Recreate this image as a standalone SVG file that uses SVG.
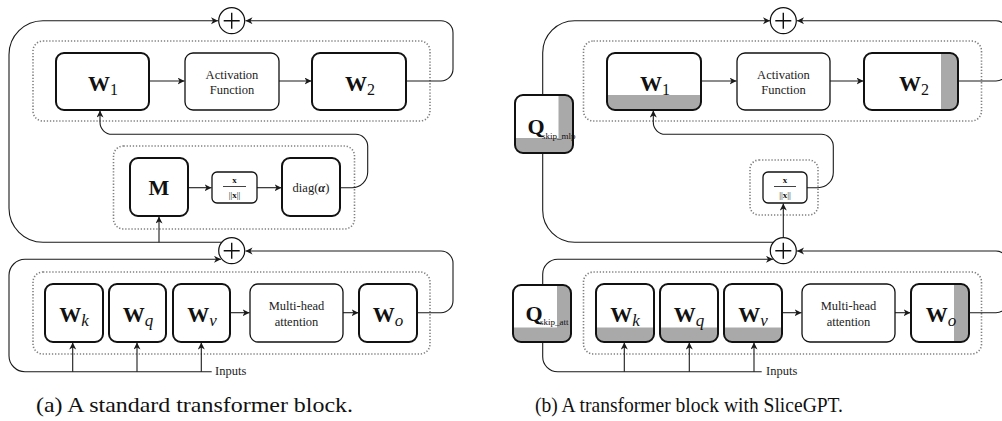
<svg xmlns="http://www.w3.org/2000/svg" width="1002" height="421" viewBox="0 0 1002 421">
<defs>
<marker id="arr" markerUnits="userSpaceOnUse" markerWidth="8" markerHeight="8" refX="7" refY="3.5" orient="auto">
<path d="M0,0 L7,3.5 L0,7 L2,3.5 Z" fill="#1a1a1a"/>
</marker>
</defs>
<style>
.bg{fill:#fff}
.thick{fill:none;stroke:#111;stroke-width:2}
.thin{fill:#fff;stroke:#111;stroke-width:1.3}
.dot{fill:none;stroke:#808080;stroke-width:1.6;stroke-dasharray:1.3 1.8}
.gray{fill:#a9a9a9}
.con{fill:none;stroke:#1a1a1a;stroke-width:1.1}
.arr{marker-end:url(#arr)}
.plus{fill:#fff;stroke:#111;stroke-width:1.2}
.pl{stroke:#111;stroke-width:1.4}
.W{font-family:"Liberation Serif","Times New Roman",serif;font-weight:bold;font-size:22px;fill:#111}
.sub{font-family:"Liberation Serif","Times New Roman",serif;font-weight:normal;font-size:16px}
.subi{font-family:"Liberation Serif","Times New Roman",serif;font-weight:normal;font-style:italic;font-size:17px}
.lbl{font-family:"Liberation Serif","Times New Roman",serif;font-size:12.5px;fill:#222}
.sm{font-family:"Liberation Serif","Times New Roman",serif;font-size:9px;fill:#111}
.cap{font-family:"Liberation Serif","Times New Roman",serif;font-size:21px;fill:#111}
</style>

<!-- dotted groups -->
<g id="groups">
<rect class="dot" x="33" y="41" width="397" height="80" rx="10"/>
<rect class="dot" x="113.5" y="146" width="241" height="83" rx="10"/>
<rect class="dot" x="33" y="272" width="397" height="82" rx="10"/>
<rect class="dot" x="583.5" y="41" width="398" height="80" rx="10"/>
<rect class="dot" x="750" y="160" width="68" height="55" rx="9"/>
<rect class="dot" x="583.5" y="272" width="398" height="82" rx="10"/>
</g>

<g id="connectors">
<!-- panel a -->
<path class="con arr" d="M221.8 242.3 H43 A34 34 0 0 1 9 208.3 V54.7 A34 34 0 0 1 43 20.7 H218"/>
<path class="con arr" d="M159 242.3 V216.5"/>
<path class="con arr" d="M406 81 H441 A12 12 0 0 0 453 69 V32.7 A12 12 0 0 0 441 20.7 H245.5"/>
<path class="con arr" d="M340 187.7 H352 A15.7 15.7 0 0 0 367.7 172 V146.3 A12 12 0 0 0 355.7 134.3 H112 A12 12 0 0 1 100 122.3 V110.5"/>
<path class="con arr" d="M211.7 371.7 H25 A16 16 0 0 1 9 355.7 V275.3 A16 16 0 0 1 25 259.3 H221"/>
<path class="con arr" d="M417 312.7 H441 A12 12 0 0 0 453 300.7 V263 A12 12 0 0 0 441 251 H245.5"/>
<path class="con arr" d="M72.7 371.7 V342.5"/>
<path class="con arr" d="M137 371.7 V342.5"/>
<path class="con arr" d="M201.3 371.7 V342.5"/>
<path class="con arr" d="M149 81 H184.5"/>
<path class="con arr" d="M279 81 H311.5"/>
<path class="con arr" d="M188 187.7 H211.5"/>
<path class="con arr" d="M257 187.7 H281.5"/>
<path class="con arr" d="M230 312.7 H249.5"/>
<path class="con arr" d="M343 312.7 H358.5"/>
<!-- panel b -->
<path class="con arr" d="M542.7 95 V52.7 A32 32 0 0 1 574.7 20.7 H770"/>
<path class="con" d="M542.7 153 V210.3 A32 32 0 0 0 574.7 242.3 H773.4"/>
<path class="con arr" d="M958 81 H996 A12 12 0 0 0 1008 69 V32.7 A12 12 0 0 0 996 20.7 H797"/>
<path class="con arr" d="M807 187.7 H818 A15.3 15.3 0 0 0 833.3 172.4 V146.3 A12 12 0 0 0 821.3 134.3 H665.3 A12 12 0 0 1 653.3 122.3 V110.5"/>
<path class="con arr" d="M783.3 237.7 V203.5"/>
<path class="con arr" d="M542.7 285 V274.3 A15 15 0 0 1 557.7 259.3 H773"/>
<path class="con" d="M542.7 342 V356.7 A15 15 0 0 0 557.7 371.7 H761.7"/>
<path class="con arr" d="M969 312.7 H996 A12 12 0 0 0 1008 300.7 V263 A12 12 0 0 0 996 251 H797"/>
<path class="con arr" d="M624.3 371.7 V342.5"/>
<path class="con arr" d="M689.3 371.7 V342.5"/>
<path class="con arr" d="M754 371.7 V342.5"/>
<path class="con arr" d="M701 81 H736.5"/>
<path class="con arr" d="M830 81 H863.5"/>
<path class="con arr" d="M782 312.7 H801.5"/>
<path class="con arr" d="M895 312.7 H910.5"/>
</g>

<!-- panel a nodes -->
<g id="a_plus_top"><circle class="plus" cx="231.7" cy="20.7" r="13"/><path class="pl" d="M223.7 20.7 H239.7 M231.7 12.7 V28.7"/></g>
<g id="a_plus_bot"><circle class="plus" cx="231.7" cy="250.7" r="13"/><path class="pl" d="M223.7 250.7 H239.7 M231.7 242.7 V258.7"/></g>
<g id="a_W1"><rect class="bg" x="56" y="53" width="93" height="57" rx="8"/><rect class="thick" x="56" y="53" width="93" height="57" rx="8"/><text class="W" x="103" y="91" text-anchor="middle">W<tspan class="sub" dy="4">1</tspan></text></g>
<g id="a_act"><rect class="thin" x="185" y="53" width="94" height="57" rx="8"/><text class="lbl" x="232" y="79" text-anchor="middle">Activation</text><text class="lbl" x="232" y="94" text-anchor="middle">Function</text></g>
<g id="a_W2"><rect class="bg" x="312" y="53" width="94" height="57" rx="8"/><rect class="thick" x="312" y="53" width="94" height="57" rx="8"/><text class="W" x="360" y="91" text-anchor="middle">W<tspan class="sub" dy="4">2</tspan></text></g>
<g id="a_M"><rect class="bg" x="130" y="158" width="58" height="58" rx="8"/><rect class="thick" x="130" y="158" width="58" height="58" rx="8"/><text class="W" x="159" y="195" text-anchor="middle">M</text></g>
<g id="a_norm"><rect class="thin" x="212" y="172" width="45" height="31" rx="5"/><text class="sm" x="234.5" y="183" text-anchor="middle" font-weight="bold">x</text><path d="M223 186.5 H246" stroke="#111" stroke-width="0.8"/><text class="sm" x="234.5" y="198" text-anchor="middle">||<tspan font-weight="bold">x</tspan>||</text></g>
<g id="a_diag"><rect class="bg" x="282" y="158" width="58" height="58" rx="8"/><rect class="thick" x="282" y="158" width="58" height="58" rx="8"/><text class="lbl" x="311" y="192" text-anchor="middle" font-size="14.5" fill="#111">diag(<tspan font-weight="bold" font-style="italic">α</tspan>)</text></g>
<g id="a_Wk"><rect class="bg" x="45" y="284" width="58" height="58" rx="8"/><rect class="thick" x="45" y="284" width="58" height="58" rx="8"/><text class="W" x="74" y="322" text-anchor="middle">W<tspan class="subi" dy="4">k</tspan></text></g>
<g id="a_Wq"><rect class="bg" x="109" y="284" width="57" height="58" rx="8"/><rect class="thick" x="109" y="284" width="57" height="58" rx="8"/><text class="W" x="138" y="322" text-anchor="middle">W<tspan class="subi" dy="4">q</tspan></text></g>
<g id="a_Wv"><rect class="bg" x="173" y="284" width="57" height="58" rx="8"/><rect class="thick" x="173" y="284" width="57" height="58" rx="8"/><text class="W" x="202" y="322" text-anchor="middle">W<tspan class="subi" dy="4">v</tspan></text></g>
<g id="a_mha"><rect class="thin" x="250" y="284" width="93" height="58" rx="8"/><text class="lbl" x="296.5" y="310" text-anchor="middle" font-size="12">Multi-head</text><text class="lbl" x="296.5" y="326" text-anchor="middle" font-size="12">attention</text></g>
<g id="a_Wo"><rect class="bg" x="359" y="284" width="58" height="58" rx="8"/><rect class="thick" x="359" y="284" width="58" height="58" rx="8"/><text class="W" x="388" y="322" text-anchor="middle">W<tspan class="subi" dy="4">o</tspan></text></g>
<g id="a_inputs"><text class="lbl" x="215" y="375" font-size="13">Inputs</text></g>
<g id="a_caption"><text class="cap" x="36" y="412" textLength="317" lengthAdjust="spacingAndGlyphs">(a) A standard transformer block.</text></g>

<!-- panel b nodes -->
<g id="b_plus_top"><circle class="plus" cx="783.3" cy="20.7" r="13"/><path class="pl" d="M775.3 20.7 H791.3 M783.3 12.7 V28.7"/></g>
<g id="b_plus_bot"><circle class="plus" cx="783.3" cy="250.7" r="13"/><path class="pl" d="M775.3 250.7 H791.3 M783.3 242.7 V258.7"/></g>
<g id="b_Qmlp"><rect class="bg" x="515" y="95" width="58" height="58" rx="8"/><path class="gray" d="M558.5 95 H565 A8 8 0 0 1 573 103 V145 A8 8 0 0 1 565 153 H523 A8 8 0 0 1 515 145 V138 H558.5 Z"/><rect class="thick" x="515" y="95" width="58" height="58" rx="8"/><text class="W" x="527.5" y="134">Q</text><text class="sm" x="542" y="139" font-size="7.5" fill="#333">skip_mlp</text></g>
<g id="b_W1"><rect class="bg" x="607" y="53" width="94" height="57" rx="8"/><path class="gray" d="M607 95 H701 V102 A8 8 0 0 1 693 110 H615 A8 8 0 0 1 607 102 Z"/><rect class="thick" x="607" y="53" width="94" height="57" rx="8"/><text class="W" x="655" y="91" text-anchor="middle">W<tspan class="sub" dy="4">1</tspan></text></g>
<g id="b_act"><rect class="thin" x="737" y="53" width="93" height="57" rx="8"/><text class="lbl" x="783.5" y="79" text-anchor="middle">Activation</text><text class="lbl" x="783.5" y="94" text-anchor="middle">Function</text></g>
<g id="b_W2"><rect class="bg" x="864" y="53" width="94" height="57" rx="8"/><path class="gray" d="M941 53 H950 A8 8 0 0 1 958 61 V102 A8 8 0 0 1 950 110 H941 Z"/><rect class="thick" x="864" y="53" width="94" height="57" rx="8"/><text class="W" x="914" y="91" text-anchor="middle">W<tspan class="sub" dy="4">2</tspan></text></g>
<g id="b_norm"><rect class="thin" x="763" y="172" width="44" height="31" rx="5"/><text class="sm" x="785" y="183" text-anchor="middle" font-weight="bold">x</text><path d="M774 186.5 H796" stroke="#111" stroke-width="0.8"/><text class="sm" x="785" y="198" text-anchor="middle">||<tspan font-weight="bold">x</tspan>||</text></g>
<g id="b_Qatt"><rect class="bg" x="513" y="285" width="58" height="57" rx="8"/><path class="gray" d="M557 285 H563 A8 8 0 0 1 571 293 V334 A8 8 0 0 1 563 342 H521 A8 8 0 0 1 513 334 V327.5 H557 Z"/><rect class="thick" x="513" y="285" width="58" height="57" rx="8"/><text class="W" x="525.5" y="321">Q</text><text class="sm" x="540" y="325" font-size="7.5" fill="#333">skip_att</text></g>
<g id="b_Wk"><rect class="bg" x="596" y="284" width="58" height="58" rx="8"/><path class="gray" d="M596 327.5 H654 V334 A8 8 0 0 1 646 342 H604 A8 8 0 0 1 596 334 Z"/><rect class="thick" x="596" y="284" width="58" height="58" rx="8"/><text class="W" x="625" y="322" text-anchor="middle">W<tspan class="subi" dy="4">k</tspan></text></g>
<g id="b_Wq"><rect class="bg" x="660" y="284" width="58" height="58" rx="8"/><path class="gray" d="M660 327.5 H718 V334 A8 8 0 0 1 710 342 H668 A8 8 0 0 1 660 334 Z"/><rect class="thick" x="660" y="284" width="58" height="58" rx="8"/><text class="W" x="689" y="322" text-anchor="middle">W<tspan class="subi" dy="4">q</tspan></text></g>
<g id="b_Wv"><rect class="bg" x="724" y="284" width="58" height="58" rx="8"/><path class="gray" d="M724 327.5 H782 V334 A8 8 0 0 1 774 342 H732 A8 8 0 0 1 724 334 Z"/><rect class="thick" x="724" y="284" width="58" height="58" rx="8"/><text class="W" x="753" y="322" text-anchor="middle">W<tspan class="subi" dy="4">v</tspan></text></g>
<g id="b_mha"><rect class="thin" x="802" y="284" width="93" height="58" rx="8"/><text class="lbl" x="848.5" y="310" text-anchor="middle" font-size="12">Multi-head</text><text class="lbl" x="848.5" y="326" text-anchor="middle" font-size="12">attention</text></g>
<g id="b_Wo"><rect class="bg" x="911" y="284" width="58" height="58" rx="8"/><path class="gray" d="M954 284 H961 A8 8 0 0 1 969 292 V334 A8 8 0 0 1 961 342 H954 Z"/><rect class="thick" x="911" y="284" width="58" height="58" rx="8"/><text class="W" x="941" y="322" text-anchor="middle">W<tspan class="subi" dy="4">o</tspan></text></g>
<g id="b_inputs"><text class="lbl" x="766" y="375" font-size="13">Inputs</text></g>
<g id="b_caption"><text class="cap" x="535" y="412" textLength="308" lengthAdjust="spacingAndGlyphs">(b) A transformer block with SliceGPT.</text></g>
</svg>
